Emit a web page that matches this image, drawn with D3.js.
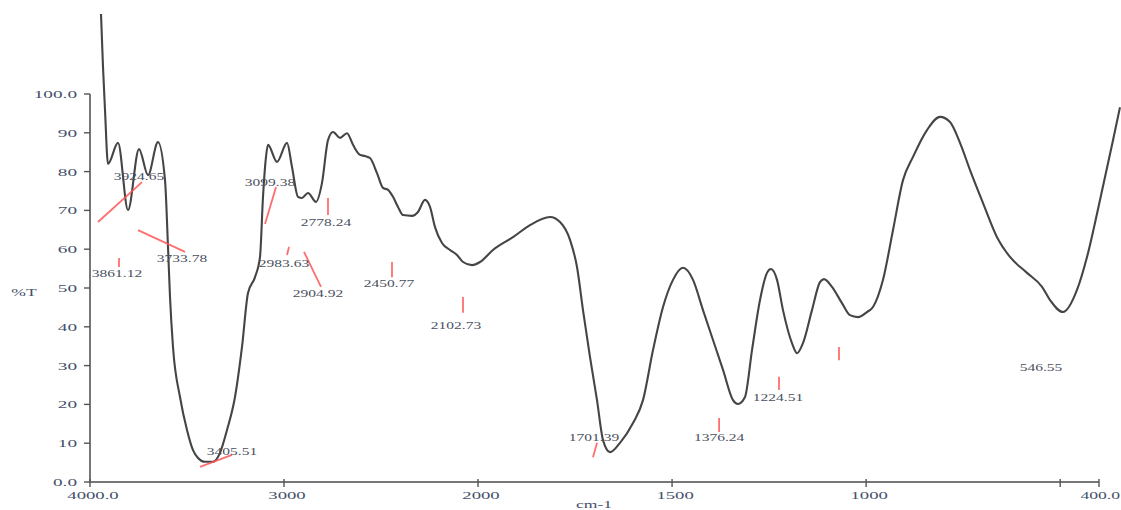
<!DOCTYPE html>
<html>
<head>
<meta charset="utf-8">
<script src="https://cdn.jsdelivr.net/npm/d3@7"></script>
<style>
  html, body { margin: 0; padding: 0; background: #ffffff; }
  svg { display: block; }
</style>
</head>
<body>
<svg id="chart" width="1121" height="510"></svg>
<script>
// IR transmittance spectrum (wavenumber in cm-1, transmittance in %T)
const wavenumber = [
  3943.3, 3933.0, 3922.7, 3907.2, 3855.7, 3804.1, 3747.4, 3701.0, 3649.5, 3613.4,
  3597.9, 3587.6, 3572.2, 3536.1, 3500.0, 3469.1, 3443.3, 3407.2, 3366.0, 3329.9,
  3293.8, 3252.6, 3216.5, 3185.6, 3149.5, 3123.7, 3108.2, 3092.8, 3082.5, 3036.1,
  2984.5, 2958.8, 2927.8, 2907.2, 2876.3, 2835.1, 2804.1, 2773.2, 2747.4, 2711.3,
  2675.3, 2644.3, 2608.2, 2582.5, 2556.7, 2520.6, 2489.7, 2463.9, 2438.1, 2412.4,
  2386.6, 2340.2, 2309.3, 2273.2, 2247.4, 2221.6, 2185.6, 2144.3, 2108.2, 2077.3,
  2030.9, 1994.8, 1961.4, 1909.8, 1866.0, 1814.5, 1788.7, 1762.9, 1744.9, 1729.5,
  1711.4, 1693.4, 1677.9, 1659.9, 1634.1, 1600.6, 1574.9, 1549.1, 1523.3, 1497.6,
  1471.8, 1446.0, 1420.3, 1394.5, 1368.7, 1343.0, 1330.1, 1312.1, 1294.0, 1273.4,
  1255.4, 1245.1, 1229.6, 1214.2, 1191.1, 1178.2, 1162.7, 1139.5, 1118.9, 1108.6,
  1088.0, 1062.2, 1041.6, 1021.0, 997.8, 982.3, 956.5, 930.8, 905.0, 879.2,
  843.2, 809.7, 783.9, 758.1, 732.3, 698.8, 662.8, 629.3, 585.5, 546.8,
  526.2, 492.7, 456.7, 430.9, 397.4, 363.9, 345.9
];
const transmittance = [
  120.6, 107.0, 95.9, 82.0, 87.4, 70.1, 85.8, 79.1, 87.6, 77.8,
  60.6, 47.7, 34.8, 21.9, 13.4, 8.2, 6.2, 5.2, 5.2, 7.5,
  13.4, 21.9, 34.8, 48.7, 52.8, 58.0, 73.5, 83.8, 86.9, 82.5,
  87.4, 81.2, 73.5, 73.2, 74.5, 72.2, 77.1, 88.1, 90.2, 88.7,
  89.9, 86.9, 84.3, 84.0, 83.5, 79.6, 75.8, 75.3, 73.5, 70.9,
  68.8, 68.6, 69.6, 72.7, 70.9, 65.7, 61.6, 59.8, 58.5, 56.7,
  55.9, 56.7, 59.8, 63.1, 66.2, 68.3, 67.0, 62.4, 55.4, 44.3,
  32.2, 21.1, 10.8, 7.7, 10.1, 15.2, 21.1, 34.0, 45.1, 52.1,
  55.2, 52.1, 44.3, 36.6, 28.9, 21.1, 20.1, 21.9, 34.0, 46.9,
  53.9, 54.9, 52.1, 44.3, 35.8, 33.2, 35.8, 44.3, 51.5, 52.3,
  50.3, 46.1, 43.0, 42.5, 43.8, 45.1, 52.1, 64.9, 77.8, 83.8,
  90.7, 94.1, 92.8, 87.4, 80.4, 71.9, 63.1, 58.0, 53.9, 50.3,
  46.9, 43.8, 49.5, 58.0, 72.7, 88.1, 96.6
];

// Axis ticks
const yTicks = [0, 10, 20, 30, 40, 50, 60, 70, 80, 90, 100];
const yTickLabels = ["0.0", "10", "20", "30", "40", "50", "60", "70", "80", "90", "100.0"];
const xTicks = [4000, 3000, 2000, 1500, 1000, 500, 400];
const xTickLabels = ["4000.0", "3000", "2000", "1500", "1000", "", "400.0"];

// Peak annotations: label text and its anchor (cm-1, %T)
const peakLabels = ["3924.65", "3733.78", "3861.12", "3099.38", "2778.24", "2983.63", "2904.92",
                    "2450.77", "2102.73", "3405.51", "1701.39", "1376.24", "1224.51", "546.55"];
const peakLabelX = [3747.4, 3525.8, 3860.8, 3072.2, 2783.5, 3000.0, 2824.8,
                    2458.8, 2113.4, 3268.0, 1701.1, 1378.8, 1227.0, 549.4];
const peakLabelY = [77.8, 56.7, 52.8, 76.3, 66.0, 55.4, 47.7,
                    50.3, 39.4, 7.0, 10.6, 10.6, 20.9, 28.6];

// Red peak markers: start and end points (cm-1, %T)
const markX1 = [3958.8, 3752.6, 3850.5, 3041.2, 2773.2, 2974.2, 2896.9, 2443.3, 2077.3, 3433.0, 1703.7, 1378.8, 1224.5, 1069.9];
const markY1 = [67.0, 64.9, 57.7, 76.0, 73.2, 60.6, 59.3, 56.7, 47.7, 3.9, 6.4, 16.5, 27.1, 34.8];
const markX2 = [3731.9, 3510.3, 3850.5, 3097.9, 2773.2, 2984.5, 2809.3, 2443.3, 2077.3, 3268.0, 1693.4, 1378.8, 1224.5, 1069.9];
const markY2 = [77.3, 59.3, 55.4, 66.5, 68.8, 58.5, 50.3, 52.8, 43.6, 7.0, 10.1, 12.9, 23.7, 31.4];

const svg = d3.select("#chart");

// Wavenumber axis is compressed above 2000 cm-1 (two linear segments)
const x = d3.scaleLinear().domain([4000, 2000, 400]).range([90, 478, 1099]);
const y = d3.scaleLinear().domain([0, 100]).range([482, 94]);

const serif = "'Liberation Serif', 'Times New Roman', serif";
const labelColor = "#44506a";

// Axes
const axes = svg.append("g");
axes.append("line")
  .attr("x1", x(4000)).attr("x2", x(4000))
  .attr("y1", y(100)).attr("y2", y(0))
  .attr("stroke", "#555").attr("stroke-width", 1.6);
axes.append("line")
  .attr("x1", x(4000)).attr("x2", x(400))
  .attr("y1", y(0)).attr("y2", y(0))
  .attr("stroke", "#777").attr("stroke-width", 2.2);

axes.selectAll(".ytick").data(yTicks).join("line")
  .attr("x1", x(4000) - 6).attr("x2", x(4000))
  .attr("y1", d => y(d)).attr("y2", d => y(d))
  .attr("stroke", "#555").attr("stroke-width", 1.4);

axes.selectAll(".ylab").data(yTicks).join("text")
  .attr("transform", d => `translate(${x(4000) - 13},${y(d) + 4}) scale(1.75,1)`)
  .attr("text-anchor", "end")
  .attr("font-family", serif).attr("font-size", 11)
  .attr("fill", labelColor)
  .text((d, i) => yTickLabels[i]);

axes.selectAll(".xtick").data(xTicks).join("line")
  .attr("x1", d => x(d)).attr("x2", d => x(d))
  .attr("y1", y(0) - 3).attr("y2", y(0) + 5)
  .attr("stroke", "#555").attr("stroke-width", 1.4);

// Last label sits flush against the right edge
axes.selectAll(".xlab").data(xTicks).join("text")
  .attr("transform", (d, i) => i === xTicks.length - 1
      ? `translate(1120,${y(0) + 17}) scale(1.6,1)`
      : `translate(${x(d) + 3},${y(0) + 17}) scale(1.7,1)`)
  .attr("text-anchor", (d, i) => i === xTicks.length - 1 ? "end" : "middle")
  .attr("font-family", serif).attr("font-size", 11)
  .attr("fill", labelColor)
  .text((d, i) => xTickLabels[i]);

// Axis titles
svg.append("text")
  .attr("transform", `translate(24,${y(50) + 8}) scale(1.6,1)`)
  .attr("text-anchor", "middle")
  .attr("font-family", serif).attr("font-size", 11)
  .attr("fill", labelColor)
  .text("%T");
svg.append("text")
  .attr("transform", `translate(${x(1701)},508) scale(1.6,1)`)
  .attr("text-anchor", "middle")
  .attr("font-family", serif).attr("font-size", 11)
  .attr("fill", labelColor)
  .text("cm-1");

// Spectrum
const points = wavenumber.map((w, i) => [w, transmittance[i]]);
const line = d3.line()
  .x(d => x(d[0]))
  .y(d => y(d[1]))
  .curve(d3.curveMonotoneX);
svg.append("path")
  .attr("d", line(points))
  .attr("fill", "none")
  .attr("stroke", "#454545")
  .attr("stroke-width", 2.1)
  .attr("stroke-linejoin", "round");

// Peak markers
svg.selectAll(".mark").data(markX1).join("line")
  .attr("x1", (d, i) => x(markX1[i])).attr("y1", (d, i) => y(markY1[i]))
  .attr("x2", (d, i) => x(markX2[i])).attr("y2", (d, i) => y(markY2[i]))
  .attr("stroke", "#ff5555").attr("stroke-width", 1.8)
  .attr("stroke-opacity", 0.85);

// Peak labels
svg.selectAll(".peak").data(peakLabels).join("text")
  .attr("transform", (d, i) => `translate(${x(peakLabelX[i])},${y(peakLabelY[i])}) scale(1.55,1)`)
  .attr("text-anchor", "middle")
  .attr("font-family", serif).attr("font-size", 10)
  .attr("fill", "#4a5060")
  .text(d => d);
</script>
</body>
</html>
